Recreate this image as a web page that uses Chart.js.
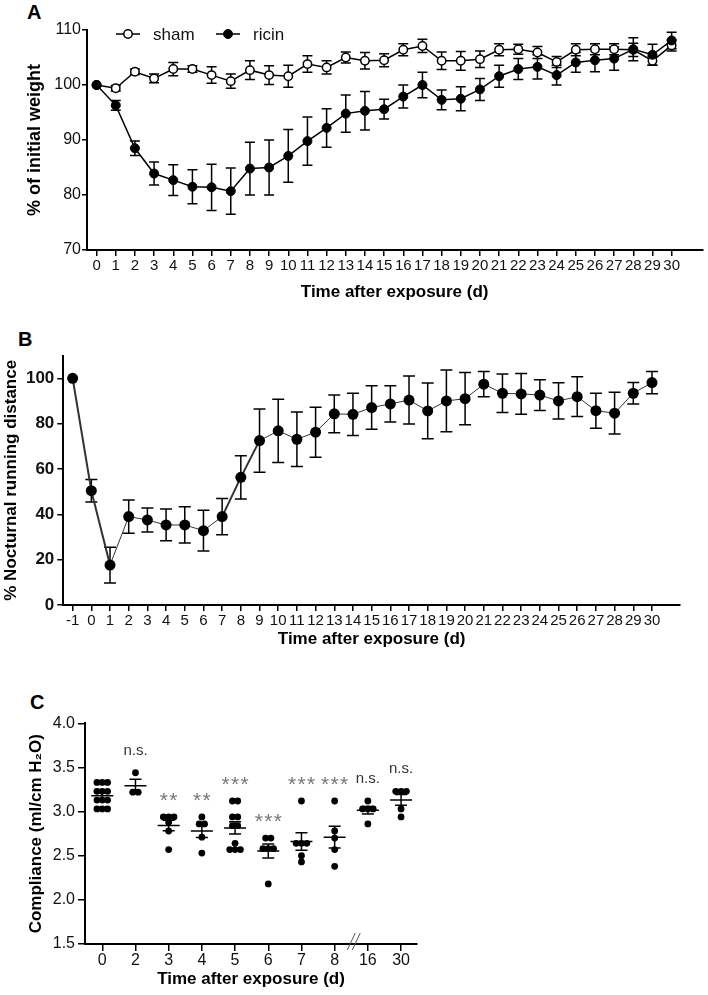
<!DOCTYPE html>
<html>
<head>
<meta charset="utf-8">
<script src="https://cdn.jsdelivr.net/npm/chart.js@4.4.0/dist/chart.umd.min.js"></script>
<style>
  body { margin: 0; background: #fff; width: 708px; height: 995px; position: relative; overflow: hidden; font-family: 'Liberation Sans', Arial, sans-serif; }
  .panel { position: absolute; left: 0; }
  .tag { position: absolute; font-weight: bold; font-size: 20px; line-height: 1; color: #000; }
</style>
</head>
<body>
<div class="tag" style="left:27px;top:2px">A</div>
<div class="tag" style="left:18px;top:329px">B</div>
<div class="tag" style="left:30px;top:692px">C</div>
<div class="panel" style="top:0;width:708px;height:315px"><canvas id="weight-chart"></canvas></div>
<div class="panel" style="top:320px;width:708px;height:330px"><canvas id="running-chart"></canvas></div>
<div class="panel" style="top:650px;width:440px;height:345px"><canvas id="compliance-chart"></canvas></div>

<script>
// ---- data ----

// A: body weight
const days = [0, 1, 2, 3, 4, 5, 6, 7, 8, 9, 10, 11, 12, 13, 14, 15, 16, 17, 18, 19, 20, 21, 22, 23, 24, 25, 26, 27, 28, 29, 30];
const shamWeight = [100, 99.4, 102.4, 101.2, 102.9, 102.9, 101.8, 100.7, 102.7, 101.8, 101.6, 103.8, 103.2, 105.0, 104.4, 104.5, 106.4, 107.1, 104.4, 104.4, 104.7, 106.4, 106.5, 105.9, 104.2, 106.4, 106.5, 106.5, 106.4, 104.4, 107.2];
const shamWeightErr = [0, 0.5, 0.5, 0.8, 1.2, 0.6, 1.5, 1.3, 1.7, 1.7, 2.0, 1.5, 1.2, 1.0, 1.5, 1.2, 1.1, 1.2, 1.6, 1.7, 1.5, 1.1, 0.9, 1.1, 1.0, 1.1, 1.0, 1.0, 1.2, 0.8, 1.0];
const ricinWeight = [100, 96.3, 88.5, 83.9, 82.7, 81.5, 81.4, 80.7, 84.8, 85.0, 87.1, 89.8, 92.2, 94.8, 95.3, 95.6, 97.9, 100.0, 97.3, 97.5, 99.2, 101.6, 102.9, 103.3, 101.8, 104.1, 104.5, 104.8, 106.5, 105.5, 108.1];
const ricinWeightErr = [0, 0.9, 1.3, 2.1, 2.8, 3.1, 4.2, 4.2, 4.8, 5.0, 4.8, 4.4, 3.5, 3.4, 3.5, 1.8, 2.1, 2.3, 1.8, 2.2, 2.0, 2.0, 1.9, 2.2, 1.8, 1.8, 2.1, 2.1, 2.1, 1.9, 1.5];

// B: nocturnal running distance
const runDays = [-1, 0, 1, 2, 3, 4, 5, 6, 7, 8, 9, 10, 11, 12, 13, 14, 15, 16, 17, 18, 19, 20, 21, 22, 23, 24, 25, 26, 27, 28, 29, 30];
const running = [100, 50.4, 17.6, 39.0, 37.5, 35.3, 35.3, 32.8, 39.0, 56.3, 72.5, 76.8, 73.1, 76.2, 84.3, 84.1, 87.1, 88.7, 90.4, 85.6, 90.0, 91.0, 97.4, 93.4, 93.1, 92.6, 90.0, 91.9, 85.7, 84.6, 93.4, 98.1];
const runningErr = [0, 5, 7.9, 7.3, 5.3, 7, 8, 9, 8, 9.5, 14, 14, 12, 11, 8.3, 9.3, 9.6, 8, 10.6, 12.3, 13.6, 11.5, 5.6, 8.5, 9, 6.8, 8, 8.8, 7.7, 9.2, 4.7, 4.9];
const runYTicks = [0, 20, 40, 60, 80, 100];

// C: lung compliance, one array per day
const compLabels = ['0', '2', '3', '4', '5', '6', '7', '8', '16', '30'];
const compDay0 = [3.33, 3.33, 3.33, 3.23, 3.23, 3.23, 3.13, 3.13, 3.13, 3.03, 3.03, 3.03];
const compDay2 = [3.44, 3.22, 3.22];
const compDay3 = [2.94, 2.94, 2.94, 2.88, 2.78, 2.57];
const compDay4 = [2.94, 2.86, 2.86, 2.71, 2.53];
const compDay5 = [3.12, 3.12, 2.94, 2.94, 2.84, 2.84, 2.64, 2.57, 2.57, 2.57];
const compDay6 = [2.70, 2.70, 2.58, 2.58, 2.58, 2.18];
const compDay7 = [3.12, 2.64, 2.64, 2.64, 2.50, 2.43];
const compDay8 = [3.12, 2.78, 2.70, 2.57, 2.38];
const compDay16 = [3.12, 3.03, 3.03, 3.03, 2.86];
const compDay30 = [3.23, 3.23, 3.23, 3.03, 2.94];
const compGroups = [compDay0, compDay2, compDay3, compDay4, compDay5, compDay6, compDay7, compDay8, compDay16, compDay30];
const compSig = ['', 'n.s.', '**', '**', '***', '***', '***', '***', 'n.s.', 'n.s.'];

// ---- shared style ----
Chart.defaults.font.family = "'Liberation Sans', Arial, sans-serif";
Chart.defaults.color = '#111';
Chart.defaults.animation = false;

const axisLine = { display: true, color: '#000', width: 2 };
const tickGrid = len => ({ display: true, drawOnChartArea: false, drawTicks: true, tickLength: len, color: '#000', lineWidth: 1.5 });

// vertical error bars with caps, drawn under the points
const errorBars = {
  id: 'errorBars',
  beforeDatasetsDraw(chart, args, opts) {
    const { ctx, scales: { x, y } } = chart;
    ctx.save();
    ctx.strokeStyle = '#000';
    ctx.lineWidth = 1.5;
    chart.data.datasets.forEach(ds => {
      if (!ds.err) return;
      ds.data.forEach((pt, i) => {
        const e = ds.err[i];
        if (!e) return;
        const px = x.getPixelForValue(pt.x);
        const top = y.getPixelForValue(pt.y + e);
        const bot = y.getPixelForValue(pt.y - e);
        ctx.beginPath();
        ctx.moveTo(px, top); ctx.lineTo(px, bot);
        ctx.moveTo(px - opts.cap, top); ctx.lineTo(px + opts.cap, top);
        ctx.moveTo(px - opts.cap, bot); ctx.lineTo(px + opts.cap, bot);
        ctx.stroke();
      });
    });
    ctx.restore();
  }
};

// legend inside panel A
const weightLegend = {
  id: 'weightLegend',
  afterDraw(chart) {
    const ctx = chart.ctx;
    const y = 34;
    const entries = [
      { ds: chart.data.datasets[1], x: 116 },
      { ds: chart.data.datasets[0], x: 216 }
    ];
    ctx.save();
    entries.forEach(({ ds, x }) => {
      ctx.strokeStyle = '#000';
      ctx.lineWidth = 1.5;
      ctx.beginPath();
      ctx.moveTo(x, y); ctx.lineTo(x + 24, y);
      ctx.stroke();
      ctx.beginPath();
      ctx.arc(x + 12, y, ds.pointRadius, 0, Math.PI * 2);
      ctx.fillStyle = ds.pointBackgroundColor;
      ctx.fill();
      ctx.lineWidth = ds.pointBorderWidth;
      ctx.stroke();
      ctx.fillStyle = '#111';
      ctx.font = "17px 'Liberation Sans', Arial, sans-serif";
      ctx.textBaseline = 'middle';
      ctx.textAlign = 'left';
      ctx.fillText(ds.label, x + 37, y + 1);
    });
    ctx.restore();
  }
};

// mean +/- SEM, significance marks and axis break for panel C
const dotStats = {
  id: 'dotStats',
  afterDatasetsDraw(chart) {
    const { ctx, scales: { x, y } } = chart;
    ctx.save();
    compGroups.forEach((vals, i) => {
      const n = vals.length;
      const mean = vals.reduce((a, b) => a + b, 0) / n;
      const sd = Math.sqrt(vals.reduce((a, b) => a + (b - mean) ** 2, 0) / (n - 1));
      const sem = sd / Math.sqrt(n);
      const px = x.getPixelForValue(i);
      const pm = y.getPixelForValue(mean);
      const pt = y.getPixelForValue(mean + sem);
      const pb = y.getPixelForValue(mean - sem);
      ctx.strokeStyle = '#000';
      ctx.lineWidth = 1.5;
      ctx.beginPath();
      ctx.moveTo(px - 11, pm); ctx.lineTo(px + 11, pm);
      ctx.moveTo(px, pt); ctx.lineTo(px, pb);
      ctx.moveTo(px - 6, pt); ctx.lineTo(px + 6, pt);
      ctx.moveTo(px - 6, pb); ctx.lineTo(px + 6, pb);
      ctx.stroke();

      const sig = compSig[i];
      if (!sig) return;
      const ty = y.getPixelForValue(Math.max(...vals)) - 22;
      ctx.textAlign = 'center';
      if (sig === 'n.s.') {
        ctx.fillStyle = '#333';
        ctx.font = "15px 'Liberation Sans', Arial, sans-serif";
        ctx.textBaseline = 'middle';
        ctx.fillText(sig, px, ty);
      } else {
        ctx.fillStyle = '#777';
        ctx.font = "21px 'Liberation Sans', Arial, sans-serif";
        ctx.textBaseline = 'alphabetic';
        const k = sig.length;
        for (let j = 0; j < k; j++) {
          ctx.fillText('*', px + (j - (k - 1) / 2) * 9.5, ty + 12);
        }
      }
    });
    // axis break between 8 and 16
    const bx = x.getPixelForValue(7.5);
    const by = chart.chartArea.bottom;
    ctx.strokeStyle = '#555';
    ctx.lineWidth = 1;
    ctx.beginPath();
    ctx.moveTo(bx - 4, by + 6); ctx.lineTo(bx + 4, by - 11);
    ctx.moveTo(bx + 1, by + 6); ctx.lineTo(bx + 9, by - 11);
    ctx.stroke();
    ctx.restore();
  }
};

// spread equal values sideways so the dots don't sit on top of each other
function swarm(vals, center) {
  const counts = {};
  vals.forEach(v => counts[v] = (counts[v] || 0) + 1);
  const seen = {};
  return vals.map(v => {
    seen[v] = (seen[v] === undefined ? 0 : seen[v] + 1);
    return { x: center + (seen[v] - (counts[v] - 1) / 2) * 0.16, y: v };
  });
}

// ---- A: weight ----
new Chart(document.getElementById('weight-chart'), {
  type: 'line',
  data: {
    datasets: [{
      label: 'ricin',
      data: days.map((d, i) => ({ x: d, y: ricinWeight[i] })),
      err: ricinWeightErr,
      borderColor: '#000',
      borderWidth: 1.5,
      pointRadius: 4.5,
      pointBackgroundColor: '#000',
      pointBorderColor: '#000',
      pointBorderWidth: 1,
      order: 0
    }, {
      label: 'sham',
      data: days.map((d, i) => ({ x: d, y: shamWeight[i] })),
      err: shamWeightErr,
      borderColor: '#000',
      borderWidth: 1.5,
      pointRadius: 4.2,
      pointBackgroundColor: '#fff',
      pointBorderColor: '#000',
      pointBorderWidth: 1.5,
      order: 1
    }]
  },
  options: {
    responsive: true,
    maintainAspectRatio: false,
    events: [],
    layout: { padding: { top: 30, right: 0, bottom: 0, left: 0 } },
    plugins: {
      legend: { display: false },
      tooltip: { enabled: false },
      errorBars: { cap: 5 }
    },
    scales: {
      x: {
        type: 'linear',
        min: -0.5,
        max: 31.6,
        afterBuildTicks: s => { s.ticks = days.map(v => ({ value: v })); },
        afterFit: s => { s.height = 65; },
        grid: tickGrid(6),
        border: axisLine,
        ticks: { font: { size: 15 }, padding: 1, maxRotation: 0, autoSkip: false },
        title: { display: true, text: 'Time after exposure (d)', color: '#000', font: { size: 17, weight: 'bold' }, padding: { top: 0, bottom: 12 } }
      },
      y: {
        min: 70,
        max: 110,
        afterFit: s => { s.width = 87; },
        grid: tickGrid(5),
        border: axisLine,
        ticks: { stepSize: 10, font: { size: 16 }, padding: 1 },
        title: { display: true, text: '% of initial weight', color: '#000', font: { size: 18, weight: 'bold' }, padding: { top: 24, bottom: 0 } }
      }
    }
  },
  plugins: [errorBars, weightLegend]
});

// ---- B: running distance ----
new Chart(document.getElementById('running-chart'), {
  type: 'line',
  data: {
    datasets: [{
      label: 'running',
      data: runDays.map((d, i) => ({ x: d, y: running[i] })),
      err: runningErr,
      borderColor: '#333',
      borderWidth: 1,
      segment: { borderWidth: c => [0, 1, 8, 9].includes(c.p0DataIndex) ? 2 : 1 },
      pointRadius: 5.5,
      pointBackgroundColor: '#000',
      pointBorderColor: '#000',
      pointBorderWidth: 0
    }]
  },
  options: {
    responsive: true,
    maintainAspectRatio: false,
    events: [],
    layout: { padding: { top: 35.6, right: 28, bottom: 0, left: 0 } },
    plugins: {
      legend: { display: false },
      tooltip: { enabled: false },
      errorBars: { cap: 6 }
    },
    scales: {
      x: {
        type: 'linear',
        min: -1.5,
        max: 31.5,
        afterBuildTicks: s => { s.ticks = runDays.map(v => ({ value: v })); },
        afterFit: s => { s.height = 45; },
        grid: tickGrid(6),
        border: axisLine,
        ticks: { font: { size: 15 }, padding: 1, maxRotation: 0, autoSkip: false },
        title: { display: true, text: 'Time after exposure (d)', color: '#000', font: { size: 17, weight: 'bold' }, padding: { top: 0, bottom: 0 } }
      },
      y: {
        min: 0,
        max: 110,
        afterBuildTicks: s => { s.ticks = runYTicks.map(v => ({ value: v })); },
        afterFit: s => { s.width = 63.3; },
        grid: tickGrid(6),
        border: axisLine,
        ticks: { font: { size: 17, weight: 'bold' }, padding: 3 },
        title: { display: true, text: '% Nocturnal running distance', color: '#000', font: { size: 17, weight: 'bold' }, padding: { top: 1, bottom: 0 } }
      }
    }
  },
  plugins: [errorBars]
});

// ---- C: compliance ----
new Chart(document.getElementById('compliance-chart'), {
  type: 'scatter',
  data: {
    datasets: [{
      label: 'compliance',
      data: compGroups.flatMap((vals, i) => swarm(vals, i)),
      pointRadius: 3.4,
      pointBackgroundColor: '#000',
      pointBorderWidth: 0
    }]
  },
  options: {
    responsive: true,
    maintainAspectRatio: false,
    events: [],
    layout: { padding: { top: 73.3, right: 23, bottom: 0, left: 0 } },
    plugins: {
      legend: { display: false },
      tooltip: { enabled: false }
    },
    scales: {
      x: {
        type: 'linear',
        min: -0.52,
        max: 9.48,
        afterBuildTicks: s => { s.ticks = compLabels.map((l, i) => ({ value: i })); },
        afterFit: s => { s.height = 51; },
        grid: tickGrid(7),
        border: axisLine,
        ticks: { font: { size: 16 }, padding: 0, maxRotation: 0, autoSkip: false, callback: v => compLabels[v] },
        title: { display: true, text: 'Time after exposure (d)', color: '#000', font: { size: 17, weight: 'bold' }, padding: { top: 0, bottom: 5 } }
      },
      y: {
        min: 1.5,
        max: 4.0,
        afterFit: s => { s.width = 85; },
        grid: tickGrid(7),
        border: axisLine,
        ticks: { stepSize: 0.5, font: { size: 16 }, padding: 3, callback: v => v.toFixed(1) },
        title: { display: true, text: 'Compliance (ml/cm H\u2082O)', color: '#000', font: { size: 17, weight: 'bold' }, padding: { top: 26, bottom: 0 } }
      }
    }
  },
  plugins: [dotStats]
});
</script>
</body>
</html>
